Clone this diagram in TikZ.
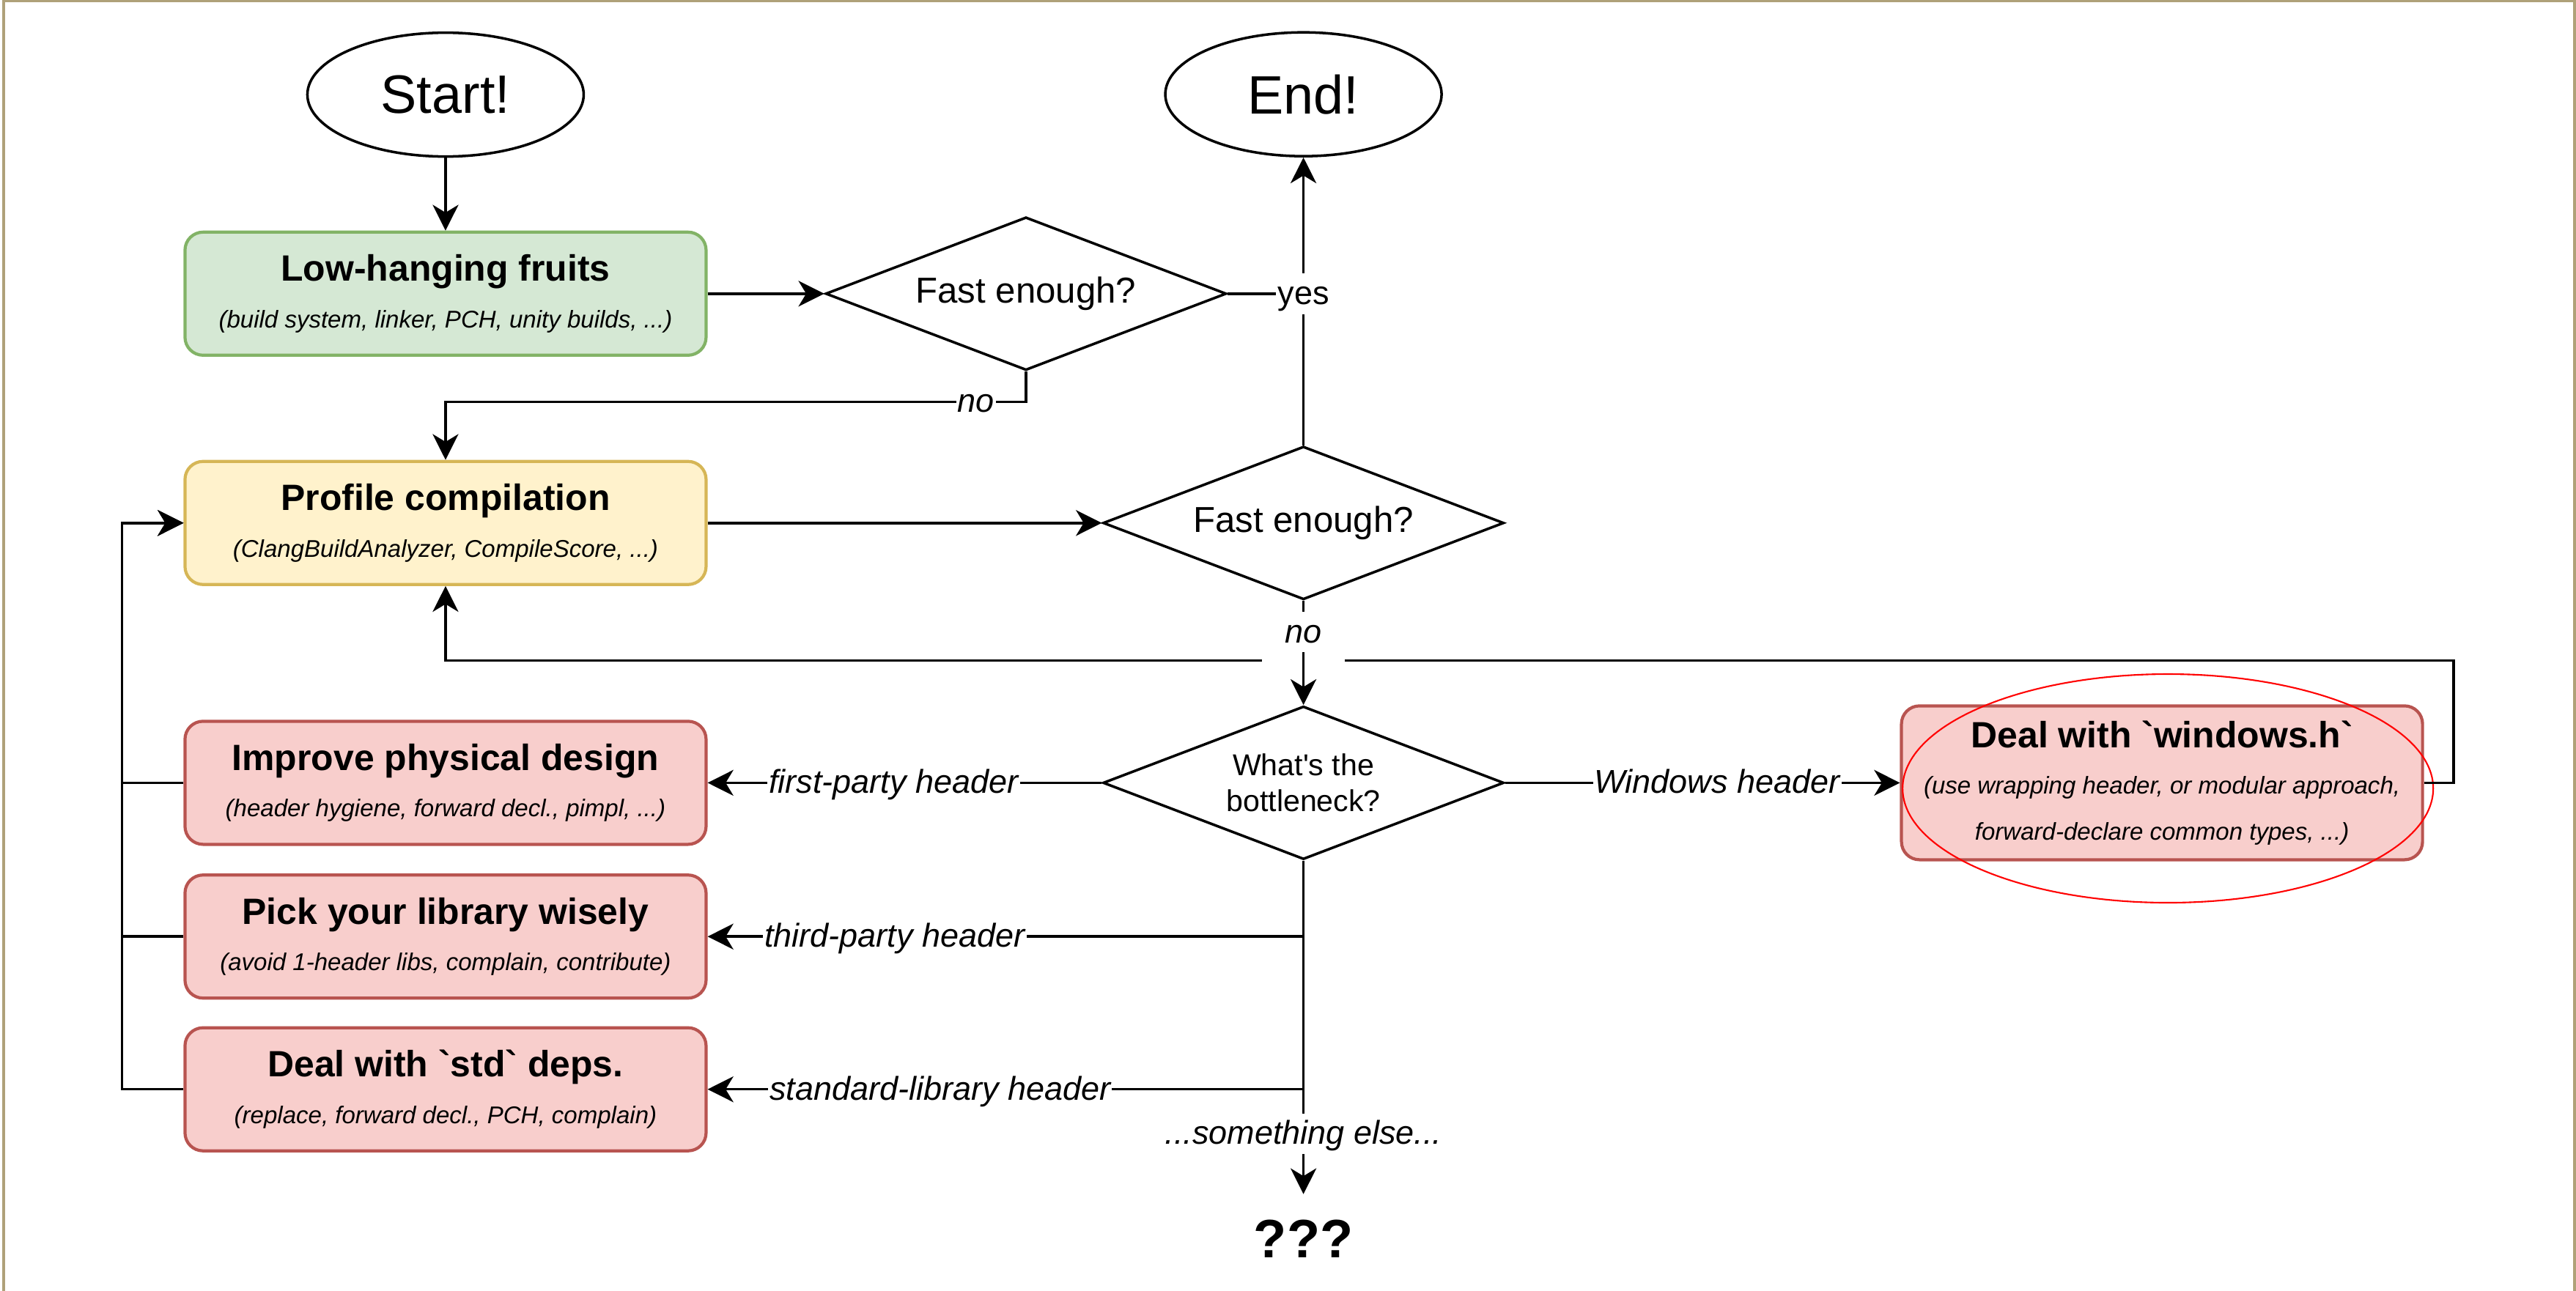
\documentclass[tikz,border=0pt]{standalone}
\usepackage{fontspec}
\setmainfont{Liberation Sans}
\usetikzlibrary{shapes.geometric, arrows.meta}

\definecolor{frametan}{RGB}{175,161,121}
\definecolor{greenfill}{HTML}{D5E8D4}
\definecolor{greenline}{HTML}{82B366}
\definecolor{yellowfill}{HTML}{FFF2CC}
\definecolor{yellowline}{HTML}{D6B656}
\definecolor{redfill}{HTML}{F8CECC}
\definecolor{redline}{HTML}{B85450}

\newcommand{\boxtitle}[1]{{\fontsize{14.2}{18}\selectfont\bfseries\upshape #1}}

\begin{document}
\begin{tikzpicture}[x=0.22417mm, y=-0.22417mm, line width=1pt,
    >={Stealth[length=10pt, width=10pt, inset=3pt]},
    terminal/.style={draw, ellipse, inner sep=0pt, minimum width=3.77cm, minimum height=1.69cm, font=\fontsize{21}{25}\selectfont},
    stepbox/.style={draw, rounded corners=7pt, line width=1.2pt, minimum width=7.11cm, minimum height=1.68cm, align=center, font=\fontsize{9.4}{18}\selectfont\itshape},
    fixbox/.style={stepbox, fill=redfill, draw=redline},
    decision/.style={draw, diamond, aspect=2.6, inner sep=0pt, minimum width=5.47cm, minimum height=2.09cm, align=center, font=\fontsize{14}{17}\selectfont},
    lbl/.style={fill=white, inner xsep=0.6pt, inner ysep=0pt, text height=12pt, text depth=3.8pt, font=\fontsize{12.8}{15}\selectfont\itshape},
  ]
  \useasboundingbox (0,0) rectangle (1568,786);
  \draw[frametan, line width=1.2pt] (2.4,790) -- (2.4,0.6) -- (1567.3,0.6) -- (1567.3,790);

  % main column
  \node[terminal] (start) at (271.2,57.6) {Start!};
  \node[terminal] (end) at (793.4,57.4) {End!};
  \node[stepbox, fill=greenfill, draw=greenline] (low) at (271.2,178.8)
    {\boxtitle{Low-hanging fruits}\\(build system, linker, PCH, unity builds, ...)};
  \node[decision] (fast1) at (624.5,178.8) {Fast enough?};
  \node[stepbox, fill=yellowfill, draw=yellowline] (prof) at (271.2,318.4)
    {\boxtitle{Profile compilation}\\(ClangBuildAnalyzer, CompileScore, ...)};
  \node[decision] (fast2) at (793.4,318.4) {Fast enough?};
  \node[decision, font=\fontsize{11.7}{14}\selectfont] (bneck) at (793.4,476.6) {What\textquotesingle s the\\bottleneck?};

  % fixes
  \node[fixbox] (imp) at (271.2,476.6)
    {\boxtitle{Improve physical design}\\(header hygiene, forward decl., pimpl, ...)};
  \node[fixbox] (pick) at (271.2,570.2)
    {\boxtitle{Pick your library wisely}\\(avoid 1-header libs, complain, contribute)};
  \node[fixbox] (std) at (271.2,663.2)
    {\boxtitle{Deal with \textasciigrave std\textasciigrave\ deps.}\\(replace, forward decl., PCH, complain)};
  \node[fixbox, minimum height=2.1cm] (win) at (1316,476.6)
    {\boxtitle{Deal with \textasciigrave windows.h\textasciigrave}\\(use wrapping header, or modular approach,\\forward-declare common types, ...)};
  \node[draw=red, ellipse, line width=0.6pt, minimum width=7.24cm, minimum height=3.12cm] (circ) at (1319.6,480) {};
  \node[font=\fontsize{21}{25}\selectfont\bfseries, anchor=north, inner ysep=9.6pt] (unk) at (793.4,727) {???};

  % connectors
  \draw[->] (start) -- (low);
  \draw[->] (low) -- (fast1);
  \draw[->] (fast1.south) -- ++(0,18.4) -| node[lbl, pos=0.043] {no} (prof.north);
  \draw[->] (prof) -- (fast2);
  \draw[->] (fast2) -- (end);
  \draw (fast1.east) -- (fast1.east -| end.south) node[lbl, font=\fontsize{12.8}{15}\selectfont] {yes};
  \draw[->] (fast2.south) -- node[lbl, pos=0.3] {no} (bneck.north);

  \draw[->] (bneck.west) -- node[lbl, pos=0.528] {first-party header} (imp.east);
  \draw[->] (bneck.east) -- node[lbl, pos=0.537] {Windows header} (win.west);
  \draw[->] (bneck.south) -- node[lbl, pos=0.819] {...something else...} (unk.north);
  \draw[->] (bneck.south |- pick.east) -- node[lbl, pos=0.686] {third-party header} (pick.east);
  \draw[->] (bneck.south |- std.east) -- node[lbl, pos=0.61] {standard-library header} (std.east);

  % loops back to profiling
  \coordinate (gapR) at (818.6,402.2);
  \coordinate (gapL) at (768,402.2);
  \draw (win.east) -- ++(18,0) |- (gapR);
  \draw[->] (gapL) -| (prof.south);
  \foreach \n in {imp, pick, std}
    \draw[->] (\n.west) -- ++(-37.4,0) |- (prof.west);
\end{tikzpicture}
\end{document}
